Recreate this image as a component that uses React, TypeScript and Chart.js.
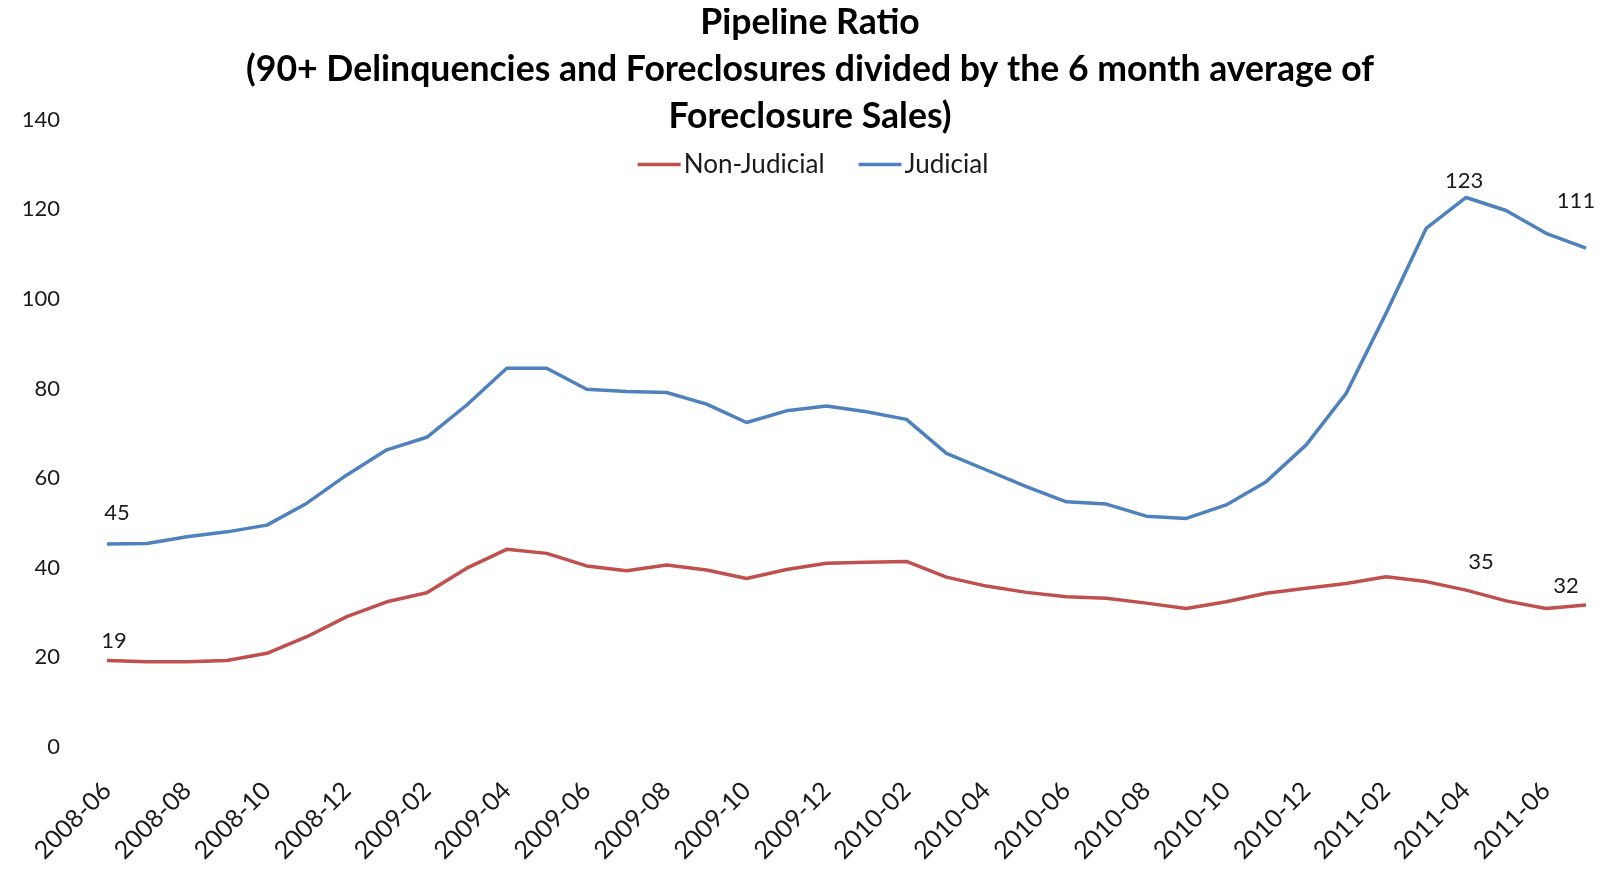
import React, { useEffect, useRef } from "react";
import { Chart, registerables } from "chart.js";

Chart.register(...registerables);

// ---------- data ----------
const months: string[] = [
  "2008-06", "2008-07", "2008-08", "2008-09", "2008-10", "2008-11", "2008-12",
  "2009-01", "2009-02", "2009-03", "2009-04", "2009-05", "2009-06", "2009-07",
  "2009-08", "2009-09", "2009-10", "2009-11", "2009-12",
  "2010-01", "2010-02", "2010-03", "2010-04", "2010-05", "2010-06", "2010-07",
  "2010-08", "2010-09", "2010-10", "2010-11", "2010-12",
  "2011-01", "2011-02", "2011-03", "2011-04", "2011-05", "2011-06", "2011-07",
];

const nonJudicial: number[] = [
  19.3, 19.0, 19.0, 19.3, 20.9, 24.6, 29.1, 32.4, 34.4, 39.9, 44.1, 43.2,
  40.4, 39.3, 40.6, 39.5, 37.6, 39.6, 41.0, 41.2, 41.4, 37.9, 35.9, 34.5,
  33.5, 33.2, 32.1, 30.9, 32.4, 34.3, 35.4, 36.5, 38.0, 36.9, 35.0, 32.6,
  30.9, 31.7,
];

const judicial: number[] = [
  45.3, 45.4, 46.9, 48.0, 49.5, 54.4, 60.7, 66.3, 69.1, 76.3, 84.5, 84.5,
  79.8, 79.3, 79.1, 76.5, 72.4, 75.0, 76.1, 74.8, 73.1, 65.5, 61.8, 58.1,
  54.7, 54.2, 51.5, 51.0, 54.0, 59.2, 67.4, 78.9, 96.8, 115.7, 122.6, 119.7,
  114.6, 111.3,
];

const seriesNames: string[] = ["Non-Judicial", "Judicial"];
const yMin = 0;
const yMax = 140;
const yStep = 20;

const titleLines: string[] = [
  "Pipeline Ratio",
  "(90+ Delinquencies and Foreclosures divided by the 6 month average of",
  "Foreclosure Sales)",
];

// which points carry a value label: [dataset index, point index]
const labelledPoints: [number, number][] = [
  [1, 0], [0, 0], [1, 34], [1, 37], [0, 34], [0, 37],
];

// ---------- styles ----------
const FONT = "Lato, 'Open Sans', sans-serif";
const TEXT = "#1a1a1a";
const RED = "#C0504D";
const BLUE = "#4F81BD";
const TICK_SIZE = 22;
const XTICK_SIZE = 25;
const LINE_W = 3.5;
// label offsets relative to the point (pixels), same order as labelledPoints
const labelOffsets: [number, number][] = [
  [10, -31], [7, -20], [-2, -17], [-10, -47], [15, -28], [-20, -19],
];

const CANVAS_W = 1586;
const CANVAS_H = 853;

function fitSize(ctx: CanvasRenderingContext2D, text: string, weight: string, target: number) {
  ctx.font = `${weight} 100px ${FONT}`;
  const w = ctx.measureText(text).width;
  return (100 * target) / w;
}

const overlayPlugin = {
  id: "overlay",
  afterDatasetsDraw(chart: any) {
    const ctx: CanvasRenderingContext2D = chart.ctx;
    ctx.save();
    ctx.font = `${TICK_SIZE}px ${FONT}`;
    ctx.fillStyle = TEXT;
    ctx.textAlign = "center";
    ctx.textBaseline = "middle";
    labelledPoints.forEach(([ds, idx], k) => {
      const pt = chart.getDatasetMeta(ds).data[idx];
      const v = chart.data.datasets[ds].data[idx] as number;
      const [dx, dy] = labelOffsets[k];
      ctx.fillText(String(Math.round(v)), pt.x + dx, pt.y + dy);
    });
    ctx.restore();
  },
  afterDraw(chart: any) {
    const ctx: CanvasRenderingContext2D = chart.ctx;
    ctx.save();
    // title
    const tSize = fitSize(ctx, titleLines[1], "bold", 1128);
    ctx.font = `bold ${tSize}px ${FONT}`;
    ctx.fillStyle = "#000";
    ctx.textAlign = "center";
    ctx.textBaseline = "middle";
    const titleX = 802;
    const titleY = [15, 62, 109];
    titleLines.forEach((line, i) => ctx.fillText(line, titleX, titleY[i]));

    // legend
    const lSize = fitSize(ctx, seriesNames[0], "normal", 141);
    ctx.font = `${lSize}px ${FONT}`;
    ctx.textAlign = "left";
    const colors = [RED, BLUE];
    const boxW = 43;
    const gapText = 3;
    const gapItem = 34;
    const widths = seriesNames.map((n) => ctx.measureText(n).width);
    const total = widths.reduce((a, w) => a + boxW + gapText + w, 0) + gapItem * (seriesNames.length - 1);
    let x = 805 - total / 2;
    const ly = 156.5;
    seriesNames.forEach((n, i) => {
      ctx.strokeStyle = colors[i];
      ctx.lineWidth = LINE_W;
      ctx.beginPath();
      ctx.moveTo(x, ly);
      ctx.lineTo(x + boxW, ly);
      ctx.stroke();
      x += boxW + gapText;
      ctx.fillStyle = TEXT;
      ctx.fillText(n, x, ly);
      x += widths[i] + gapItem;
    });
    ctx.restore();
  },
};

export default function App() {
  const ref = useRef<HTMLCanvasElement | null>(null);

  useEffect(() => {
    if (!ref.current) return;
    const chart = new Chart(ref.current, {
      type: "line",
      data: {
        labels: months,
        datasets: [
          {
            label: seriesNames[0],
            data: nonJudicial,
            borderColor: RED,
            backgroundColor: RED,
            borderWidth: LINE_W,
            pointRadius: 0,
            tension: 0,
            borderJoinStyle: "round",
          },
          {
            label: seriesNames[1],
            data: judicial,
            borderColor: BLUE,
            backgroundColor: BLUE,
            borderWidth: LINE_W,
            pointRadius: 0,
            tension: 0,
            borderJoinStyle: "round",
          },
        ],
      },
      options: {
        responsive: false,
        animation: false,
        layout: { padding: { top: 111.5, right: 8, bottom: 0, left: 0 } },
        plugins: {
          legend: { display: false },
          title: { display: false },
          tooltip: { enabled: false },
        },
        scales: {
          x: {
            type: "category",
            offset: false,
            grid: { display: false, drawTicks: false },
            border: { display: false },
            ticks: {
              autoSkip: false,
              minRotation: 45,
              maxRotation: 45,
              padding: 29,
              color: TEXT,
              font: { family: FONT, size: XTICK_SIZE },
              callback: (_v: any, i: number) => (i % 2 === 0 ? months[i] : ""),
            },
            afterFit: (s: any) => {
              s.height = CANVAS_H - 739;
              s.paddingLeft = 0;
              s.paddingRight = 0;
            },
          },
          y: {
            min: yMin,
            max: yMax,
            grid: { display: false, drawTicks: false },
            border: { display: false },
            ticks: {
              stepSize: yStep,
              padding: 47,
              color: TEXT,
              font: { family: FONT, size: TICK_SIZE },
            },
            afterFit: (s: any) => {
              s.width = 99;
              s.paddingTop = 0;
              s.paddingBottom = 0;
            },
          },
        },
      },
      plugins: [overlayPlugin],
    });
    return () => chart.destroy();
  }, []);

  return (
    <div style={{ width: CANVAS_W, height: CANVAS_H }}>
      <canvas ref={ref} width={CANVAS_W} height={CANVAS_H} style={{ display: "block" }} />
    </div>
  );
}
